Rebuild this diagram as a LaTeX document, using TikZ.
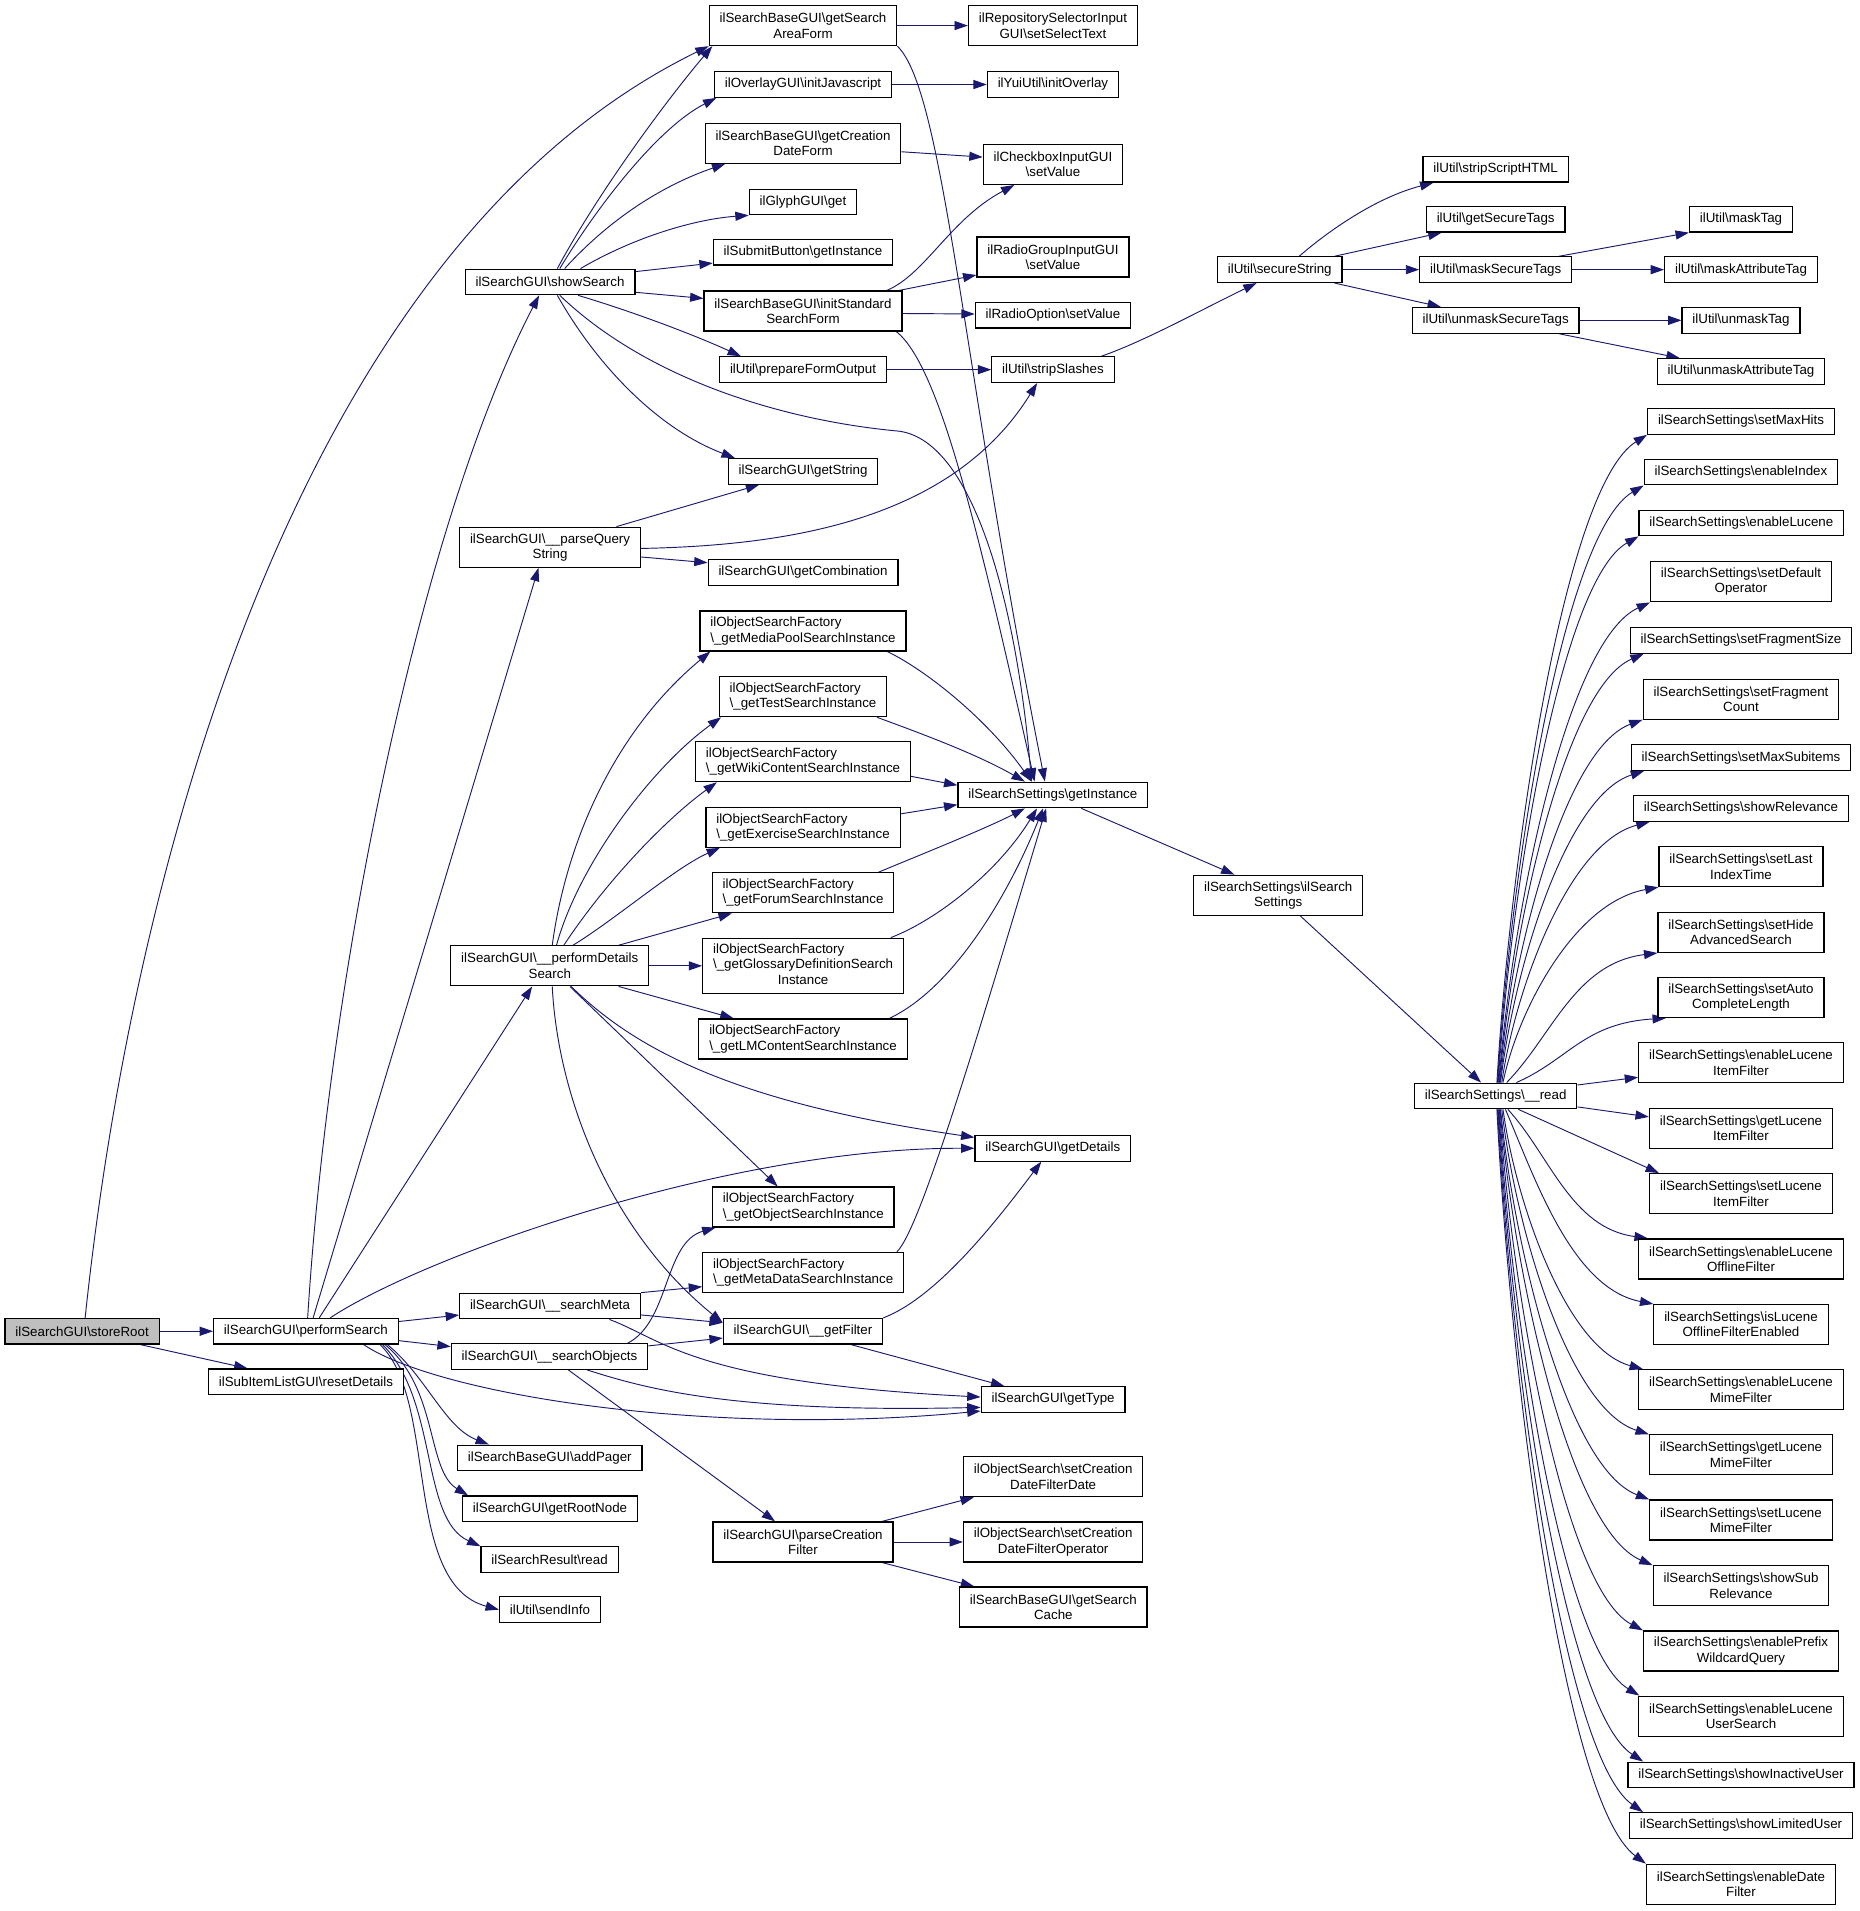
\documentclass[tikz,border=0pt]{standalone}
\usepackage{fontspec}
\setmainfont{Liberation Sans}
\usetikzlibrary{arrows.meta,calc}
\definecolor{edgeblue}{HTML}{191970}
\definecolor{rootgray}{HTML}{BFBFBF}
\newcommand{\BSL}{\textbackslash}
\pgfdeclarelayer{bglayer}
\pgfdeclarelayer{edgelayer}
\pgfsetlayers{bglayer,edgelayer,main}
\tikzset{
  box/.style={draw=black, line width=0.9pt, fill=white, font=\fontsize{10pt}{11.5pt}\selectfont,
    inner xsep=7.8pt, inner ysep=1pt, minimum height=19.2pt},
  boxc/.style={box, align=center, minimum height=30pt},
  boxl/.style={box, align=left, minimum height=30pt},
  boxthree/.style={box, minimum height=41.5pt},
  edge/.style={draw=edgeblue, line width=0.7pt, -{Triangle[length=10pt,width=6.8pt]}},
}
\newcommand{\fanedge}[3][0.09]{%
  \draw[edge] let \p1=#2, \p2=#3 in
    (\p1) .. controls ({\x1+#1*(\x2-\x1)},{\y1+0.355*(\y2-\y1)})
    and ({\x2-0.55*(\x2-\x1)},{\y2-0.08*(\y2-\y1)}) .. (\p2);}
\begin{document}
\begin{tikzpicture}[x=0.9135pt,y=-0.9135pt]
\begin{pgfonlayer}{bglayer}
\path[use as bounding box, fill=white] (0,0) rectangle (1527.1,1569);
\end{pgfonlayer}
% Column A/B
\node[box, fill=rootgray] (storeRoot) at (67.4,1093) {ilSearchGUI\BSL{}storeRoot};
\node[box] (performSearch) at (251.1,1093) {ilSearchGUI\BSL{}performSearch};
\node[box] (resetDetails) at (251.2,1134.5) {ilSubItemListGUI\BSL{}resetDetails};
% Column C
\node[box] (showSearch) at (451.6,231.5) {ilSearchGUI\BSL{}showSearch};
\node[boxc] (parseQuery) at (451.6,449.3) {ilSearchGUI\BSL\_\_parseQuery\\String};
\node[boxc] (performDetails) at (451.4,793) {ilSearchGUI\BSL\_\_performDetails\\Search};
\node[box] (searchMeta) at (451.6,1072.3) {ilSearchGUI\BSL\_\_searchMeta};
\node[box] (searchObjects) at (451.2,1113.8) {ilSearchGUI\BSL\_\_searchObjects};
\node[box] (addPager) at (451.4,1197) {ilSearchBaseGUI\BSL{}addPager};
\node[box] (getRootNode) at (451.6,1238.8) {ilSearchGUI\BSL{}getRootNode};
\node[box] (resultRead) at (451.2,1280.5) {ilSearchResult\BSL{}read};
\node[box] (sendInfo) at (451.5,1321.6) {ilUtil\BSL{}sendInfo};
% Column D
\node[boxc] (getSearchAreaForm) at (659.3,21) {ilSearchBaseGUI\BSL{}getSearch\\AreaForm};
\node[box] (initJavascript) at (659.3,69.4) {ilOverlayGUI\BSL{}initJavascript};
\node[boxc] (getCreationDateForm) at (659.3,117.6) {ilSearchBaseGUI\BSL{}getCreation\\DateForm};
\node[box] (glyphGet) at (659.3,165.8) {ilGlyphGUI\BSL{}get};
\node[box] (submitGetInstance) at (659.3,207) {ilSubmitButton\BSL{}getInstance};
\node[boxc] (initStandard) at (659.3,255.4) {ilSearchBaseGUI\BSL{}initStandard\\SearchForm};
\node[box] (prepareFormOutput) at (659.3,303.5) {ilUtil\BSL{}prepareFormOutput};
\node[box] (getString) at (659.3,387) {ilSearchGUI\BSL{}getString};
\node[box] (getCombination) at (659.3,470) {ilSearchGUI\BSL{}getCombination};
\node[boxl] (mediaPool) at (659.3,518) {ilObjectSearchFactory\\\BSL\_getMediaPoolSearchInstance};
\node[boxl] (testSearch) at (659.3,572) {ilObjectSearchFactory\\\BSL\_getTestSearchInstance};
\node[boxl] (wikiSearch) at (659.3,625.4) {ilObjectSearchFactory\\\BSL\_getWikiContentSearchInstance};
\node[boxl] (exerciseSearch) at (659.3,679.2) {ilObjectSearchFactory\\\BSL\_getExerciseSearchInstance};
\node[boxl] (forumSearch) at (659.3,733) {ilObjectSearchFactory\\\BSL\_getForumSearchInstance};
\node[boxthree] (glossarySearch) at (659.4,793) {\begin{tabular}{@{}l@{}}ilObjectSearchFactory\\\BSL\_getGlossaryDefinitionSearch\\\multicolumn{1}{@{}c@{}}{Instance}\end{tabular}};
\node[boxl] (lmSearch) at (659.3,853) {ilObjectSearchFactory\\\BSL\_getLMContentSearchInstance};
\node[boxl] (objectSearch) at (659.5,991) {ilObjectSearchFactory\\\BSL\_getObjectSearchInstance};
\node[boxl] (metaDataSearch) at (659.4,1044.7) {ilObjectSearchFactory\\\BSL\_getMetaDataSearchInstance};
\node[box] (getFilter) at (659.3,1093) {ilSearchGUI\BSL\_\_getFilter};
\node[boxc] (parseCreationFilter) at (659.3,1266) {ilSearchGUI\BSL{}parseCreation\\Filter};
% Column E
\node[boxc] (setSelectText) at (864.5,21) {ilRepositorySelectorInput\\GUI\BSL{}setSelectText};
\node[box] (initOverlay) at (864.5,69.4) {ilYuiUtil\BSL{}initOverlay};
\node[boxc] (checkboxSetValue) at (864.5,135) {ilCheckboxInputGUI\\\BSL{}setValue};
\node[boxc] (radioGroupSetValue) at (864.5,211) {ilRadioGroupInputGUI\\\BSL{}setValue};
\node[box] (radioOptionSetValue) at (864.5,258.8) {ilRadioOption\BSL{}setValue};
\node[box] (stripSlashes) at (864.5,303.5) {ilUtil\BSL{}stripSlashes};
\node[box] (ssGetInstance) at (864.4,652.7) {ilSearchSettings\BSL{}getInstance};
\node[box] (getDetails) at (864.4,942.8) {ilSearchGUI\BSL{}getDetails};
\node[box] (getType) at (864.6,1149) {ilSearchGUI\BSL{}getType};
\node[boxc] (setCDFDate) at (864.7,1212.4) {ilObjectSearch\BSL{}setCreation\\DateFilterDate};
\node[boxc] (setCDFOperator) at (864.7,1266) {ilObjectSearch\BSL{}setCreation\\DateFilterOperator};
\node[boxc] (getSearchCache) at (864.8,1319.4) {ilSearchBaseGUI\BSL{}getSearch\\Cache};
% Column F
\node[box] (secureString) at (1050.7,221.4) {ilUtil\BSL{}secureString};
\node[boxc] (ssCtor) at (1049.5,735) {ilSearchSettings\BSL{}ilSearch\\Settings};
% Column G
\node[box] (stripScriptHTML) at (1228,139) {ilUtil\BSL{}stripScriptHTML};
\node[box] (getSecureTags) at (1228,180) {ilUtil\BSL{}getSecureTags};
\node[box] (maskSecureTags) at (1228,221.4) {ilUtil\BSL{}maskSecureTags};
\node[box] (unmaskSecureTags) at (1228,263) {ilUtil\BSL{}unmaskSecureTags};
\node[box] (ssRead) at (1228,899.8) {ilSearchSettings\BSL\_\_read};
% Column H
\node[box] (maskTag) at (1429.4,180) {ilUtil\BSL{}maskTag};
\node[box] (maskAttributeTag) at (1429.4,221.4) {ilUtil\BSL{}maskAttributeTag};
\node[box] (unmaskTag) at (1429.4,263) {ilUtil\BSL{}unmaskTag};
\node[box] (unmaskAttributeTag) at (1429.4,305) {ilUtil\BSL{}unmaskAttributeTag};
\node[box] (setMaxHits) at (1429.4,346) {ilSearchSettings\BSL{}setMaxHits};
\node[box] (enableIndex) at (1429.4,387.6) {ilSearchSettings\BSL{}enableIndex};
\node[box] (enableLucene) at (1429.7,429.4) {ilSearchSettings\BSL{}enableLucene};
\node[boxc] (setDefault) at (1429.4,477.7) {ilSearchSettings\BSL{}setDefault\\Operator};
\node[box] (setFragmentSize) at (1429.4,525.8) {ilSearchSettings\BSL{}setFragmentSize};
\node[boxc] (setFragmentCount) at (1429.4,574) {ilSearchSettings\BSL{}setFragment\\Count};
\node[box] (setMaxSubitems) at (1429.4,622) {ilSearchSettings\BSL{}setMaxSubitems};
\node[box] (showRelevance) at (1429.4,663.8) {ilSearchSettings\BSL{}showRelevance};
\node[boxc] (setLastIndexTime) at (1429.4,711.5) {ilSearchSettings\BSL{}setLast\\IndexTime};
\node[boxc] (setHideAdvanced) at (1429.4,765.5) {ilSearchSettings\BSL{}setHide\\AdvancedSearch};
\node[boxc] (setAutoComplete) at (1429.4,819) {ilSearchSettings\BSL{}setAuto\\CompleteLength};
\node[boxc] (enableLuceneItemFilter) at (1429.4,872.5) {ilSearchSettings\BSL{}enableLucene\\ItemFilter};
\node[boxc] (getLuceneItemFilter) at (1429.4,926.5) {ilSearchSettings\BSL{}getLucene\\ItemFilter};
\node[boxc] (setLuceneItemFilter) at (1429.4,980) {ilSearchSettings\BSL{}setLucene\\ItemFilter};
\node[boxc] (enableLuceneOfflineFilter) at (1429.4,1033.6) {ilSearchSettings\BSL{}enableLucene\\OfflineFilter};
\node[boxc] (isLuceneOfflineFilterEnabled) at (1429.4,1087.5) {ilSearchSettings\BSL{}isLucene\\OfflineFilterEnabled};
\node[boxc] (enableLuceneMimeFilter) at (1429.4,1141) {ilSearchSettings\BSL{}enableLucene\\MimeFilter};
\node[boxc] (getLuceneMimeFilter) at (1429.4,1194.5) {ilSearchSettings\BSL{}getLucene\\MimeFilter};
\node[boxc] (setLuceneMimeFilter) at (1429.4,1248) {ilSearchSettings\BSL{}setLucene\\MimeFilter};
\node[boxc] (showSubRelevance) at (1429.4,1302) {ilSearchSettings\BSL{}showSub\\Relevance};
\node[boxc] (enablePrefix) at (1429.4,1355.5) {ilSearchSettings\BSL{}enablePrefix\\WildcardQuery};
\node[boxc] (enableLuceneUserSearch) at (1429.4,1409) {ilSearchSettings\BSL{}enableLucene\\UserSearch};
\node[box] (showInactiveUser) at (1429.4,1457.3) {ilSearchSettings\BSL{}showInactiveUser};
\node[box] (showLimitedUser) at (1429.4,1498.8) {ilSearchSettings\BSL{}showLimitedUser};
\node[boxc] (enableDateFilter) at (1429.4,1547) {ilSearchSettings\BSL{}enableDate\\Filter};

\begin{pgfonlayer}{edgelayer}
% storeRoot
\draw[edge] (storeRoot.east) -- (performSearch.west);
\draw[edge] ($(storeRoot.south)+(48,0)$) -- ($(resetDetails.north)+(-48,0)$);
\draw[edge] ($(storeRoot.north)+(2.5,0)$) .. controls (110,700) and (250,200) .. (getSearchAreaForm.south west);
% performSearch
\draw[edge] ($(performSearch.north)+(1.5,0)$) .. controls (270,800) and (345,430) .. ($(showSearch.south)+(-9,0)$);
\draw[edge] ($(performSearch.north)+(6,0)$) -- ($(parseQuery.south)+(-9.5,0)$);
\draw[edge] ($(performSearch.north)+(11,0)$) -- ($(performDetails.south)+(-14.5,0)$);
\draw[edge] ($(performSearch.east)+(0,-8)$) -- ($(searchMeta.west)+(0,7.4)$);
\draw[edge] ($(performSearch.east)+(0,7.7)$) -- ($(searchObjects.west)+(0,-8.2)$);
\draw[edge] ($(performSearch.north)+(20,0)$) .. controls (350,1030) and (600,942) .. (getDetails.west);
\draw[edge] ($(performSearch.south)+(47.5,0)$) .. controls (360,1145) and (580,1180) .. ($(getType.west)+(0,9.5)$);
\draw[edge] ($(performSearch.south)+(67,0)$) .. controls (350,1130) and (365,1172) .. ($(addPager.north)+(-50,0)$);
\draw[edge] ($(performSearch.south)+(65,0)$) .. controls (360,1140) and (350,1207) .. ($(getRootNode.north west)+(5,0)$);
\draw[edge] ($(performSearch.south)+(63,0)$) .. controls (360,1150) and (345,1247) .. (resultRead.north west);
\draw[edge] ($(performSearch.south)+(61,0)$) .. controls (360,1150) and (330,1300) .. (sendInfo.west);
% showSearch
\draw[edge] ($(showSearch.north)+(6,0)$) .. controls (490,160) and (545,85) .. ($(getSearchAreaForm.south west)+(3,0)$);
\draw[edge] ($(showSearch.north)+(8,0)$) .. controls (490,170) and (540,105) .. ($(initJavascript.south west)+(2,0)$);
\draw[edge] ($(showSearch.north)+(12,0)$) .. controls (505,175) and (550,150) .. ($(getCreationDateForm.south west)+(17,0)$);
\draw[edge] ($(showSearch.north)+(25,0)$) .. controls (520,195) and (570,180) .. (glyphGet.south west);
\draw[edge] ($(showSearch.east)+(0,-8.5)$) -- ($(submitGetInstance.west)+(0,9)$);
\draw[edge] ($(showSearch.east)+(0,8.5)$) -- ($(initStandard.west)+(0,-10.4)$);
\draw[edge] ($(showSearch.south)+(23,0)$) .. controls (520,256) and (570,275) .. ($(prepareFormOutput.north west)+(18,0)$);
\draw[edge] ($(showSearch.south)+(6,0)$) .. controls (490,300) and (540,352) .. ($(getString.north)+(-56,0)$);
\draw[edge] ($(showSearch.south)+(8,0)$) .. controls (530,310) and (640,345) .. (738,354) .. controls (800,362) and (835,500) .. ($(ssGetInstance.north)+(-17.5,0)$);
% forms
\draw[edge] (getSearchAreaForm.east) -- (getSearchAreaForm.east -| setSelectText.west);
\draw[edge] (getSearchAreaForm.south east) .. controls (775,75) and (790,300) .. ($(ssGetInstance.north)+(-6.5,0)$);
\draw[edge] (initJavascript.east) -- (initOverlay.west);
\draw[edge] ($(getCreationDateForm.east)+(0,7)$) -- ($(checkboxSetValue.west)+(0,-6)$);
\draw[edge] ($(initStandard.north east)+(-13,0)$) .. controls (760,225) and (780,180) .. ($(checkboxSetValue.south west)+(26,0)$);
\draw[edge] ($(initStandard.north east)+(-3,0)$) -- ($(radioGroupSetValue.west)+(0,14.8)$);
\draw[edge] ($(initStandard.east)+(0,2)$) -- ($(radioOptionSetValue.west)+(0,-1)$);
\draw[edge] ($(initStandard.south east)+(-5,0)$) .. controls (770,300) and (800,420) .. ($(ssGetInstance.north)+(-15,0)$);
\draw[edge] (prepareFormOutput.east) -- (stripSlashes.west);
% parseQuery
\draw[edge] ($(parseQuery.north)+(54.5,0)$) -- ($(getString.south)+(-36,0)$);
\draw[edge] ($(parseQuery.east)+(0,1)$) .. controls (640,448) and (780,430) .. ($(stripSlashes.south)+(-13,0)$);
\draw[edge] ($(parseQuery.east)+(0,8)$) -- ($(getCombination.west)+(0,-8)$);
% performDetails
\draw[edge] ($(performDetails.north)+(2,0)$) .. controls (465,690) and (505,600) .. ($(mediaPool.south west)+(9,0)$);
\draw[edge] ($(performDetails.north)+(5.5,0)$) .. controls (475,710) and (535,630) .. ($(testSearch.south west)+(2,0)$);
\draw[edge] ($(performDetails.north)+(11.5,0)$) .. controls (500,720) and (550,670) .. ($(wikiSearch.south west)+(18,0)$);
\draw[edge] ($(performDetails.north)+(19,0)$) .. controls (505,755) and (555,712) .. ($(exerciseSearch.south west)+(12,0)$);
\draw[edge] ($(performDetails.north)+(56.5,0)$) -- ($(forumSearch.south west)+(16.6,0)$);
\draw[edge] (performDetails.east) -- (glossarySearch.west);
\draw[edge] ($(performDetails.south)+(56.5,0)$) -- ($(lmSearch.north west)+(29,0)$);
\draw[edge] ($(performDetails.south)+(17.5,0)$) .. controls (520,860) and (600,905) .. ($(getDetails.west)+(0,-9)$);
\draw[edge] ($(performDetails.south)+(16.5,0)$) -- ($(objectSearch.north)+(-21,0)$);
\draw[edge] ($(performDetails.south)+(2,0)$) .. controls (458,900) and (500,1010) .. ($(getFilter.west)+(0,-7)$);
% factories -> getInstance
\draw[edge] ($(mediaPool.south east)+(-16,0)$) .. controls (760,550) and (810,590) .. ($(ssGetInstance.north)+(-17.5,0)$);
\draw[edge] ($(testSearch.south east)+(-8.5,0)$) .. controls (750,600) and (800,618) .. ($(ssGetInstance.north)+(-23,0)$);
\draw[edge] ($(wikiSearch.east)+(0,12)$) -- ($(ssGetInstance.west)+(0,-8)$);
\draw[edge] ($(exerciseSearch.east)+(0,-11)$) -- ($(ssGetInstance.west)+(0,8)$);
\draw[edge] ($(forumSearch.north east)+(-13,0)$) .. controls (760,700) and (810,680) .. ($(ssGetInstance.south)+(-23,0)$);
\draw[edge] ($(glossarySearch.north east)+(-11,0)$) .. controls (770,755) and (820,715) .. ($(ssGetInstance.south)+(-13,0)$);
\draw[edge] ($(lmSearch.north east)+(-15,0)$) .. controls (785,810) and (830,730) .. ($(ssGetInstance.south)+(-8,0)$);
\draw[edge] ($(metaDataSearch.north east)+(-6,0)$) .. controls (755,1010) and (800,860) .. ($(ssGetInstance.south)+(-5.5,0)$);
% searchMeta / searchObjects
\draw[edge] (searchMeta.north east) -- ($(metaDataSearch.west)+(0,11.7)$);
\draw[edge] ($(searchMeta.east)+(0,7.3)$) -- ($(getFilter.west)+(0,-7)$);
\draw[edge] ($(searchMeta.south east)+(-26,0)$) .. controls (545,1100) and (570,1135) .. ($(getType.west)+(0,-2)$);
\draw[edge] ($(searchObjects.north east)+(-17,0)$) .. controls (550,1085) and (545,1020) .. ($(objectSearch.south west)+(3,0)$);
\draw[edge] ($(searchObjects.east)+(0,-8.8)$) -- ($(getFilter.west)+(0,5.6)$);
\draw[edge] ($(searchObjects.south)+(31,0)$) .. controls (530,1140) and (600,1160) .. ($(getType.west)+(0,6.5)$);
\draw[edge] ($(searchObjects.south)+(15.5,0)$) -- ($(parseCreationFilter.north)+(-23,0)$);
\draw[edge] (getFilter.north east) .. controls (770,1065) and (820,1000) .. ($(getDetails.south)+(-9.5,0)$);
\draw[edge] ($(getFilter.south)+(39.5,0)$) -- ($(getType.north west)+(19.5,0)$);
\draw[edge] ($(parseCreationFilter.north east)+(-9.5,0)$) -- ($(setCDFDate.south west)+(9,0)$);
\draw[edge] (parseCreationFilter.east) -- (setCDFOperator.west);
\draw[edge] ($(parseCreationFilter.south east)+(-9.5,0)$) -- ($(getSearchCache.north west)+(12.5,0)$);
% util
\draw[edge] ($(stripSlashes.north east)+(-11,0)$) .. controls (940,280) and (985,255) .. ($(secureString.south)+(-19,0)$);
\draw[edge] ($(secureString.north)+(16,0)$) .. controls (1090,190) and (1130,162) .. ($(stripScriptHTML.south west)+(9,0)$);
\draw[edge] ($(secureString.north)+(45,0)$) -- ($(getSecureTags.south west)+(13,0)$);
\draw[edge] (secureString.east) -- (maskSecureTags.west);
\draw[edge] ($(secureString.south)+(45,0)$) -- ($(unmaskSecureTags.north west)+(24,0)$);
\draw[edge] ($(maskSecureTags.north)+(52,0)$) -- (maskTag.south west);
\draw[edge] (maskSecureTags.east) -- (maskAttributeTag.west);
\draw[edge] (unmaskSecureTags.east) -- (unmaskTag.west);
\draw[edge] ($(unmaskSecureTags.south)+(52,0)$) -- ($(unmaskAttributeTag.north west)+(19,0)$);
% settings
\draw[edge] ($(ssGetInstance.south east)+(-55,0)$) -- ($(ssCtor.north)+(-36,0)$);
\draw[edge] ($(ssCtor.south)+(18,0)$) -- ($(ssRead.north)+(-12,0)$);
\fanedge{($(ssRead.north)+(1,0)$)}{(setMaxHits.south west)}
\fanedge{($(ssRead.north)+(1.5,0)$)}{(enableIndex.south west)}
\fanedge{($(ssRead.north)+(2,0)$)}{(enableLucene.south west)}
\fanedge{($(ssRead.north)+(2.5,0)$)}{(setDefault.south west)}
\fanedge{($(ssRead.north)+(3,0)$)}{($(setFragmentSize.south west)+(11.6,0)$)}
\fanedge{($(ssRead.north)+(3.5,0)$)}{(setFragmentCount.south west)}
\fanedge{($(ssRead.north)+(4,0)$)}{($(setMaxSubitems.south west)+(11,0)$)}
\fanedge{($(ssRead.north)+(5,0)$)}{($(showRelevance.south west)+(13.7,0)$)}
\fanedge{($(ssRead.north)+(6,0)$)}{(setLastIndexTime.south west)}
\fanedge[0.3]{($(ssRead.north)+(9,0)$)}{(setHideAdvanced.south west)}
\fanedge[0.35]{($(ssRead.north)+(17,0)$)}{($(setAutoComplete.south west)+(7,0)$)}
\draw[edge] ($(ssRead.east)+(0,-9)$) -- ($(enableLuceneItemFilter.west)+(0,12)$);
\draw[edge] ($(ssRead.east)+(0,9)$) -- ($(getLuceneItemFilter.west)+(0,-9.5)$);
\draw[edge] ($(ssRead.south)+(18.6,0)$) -- ($(setLuceneItemFilter.north west)+(8,0)$);
\fanedge[0.3]{($(ssRead.south)+(10,0)$)}{($(enableLuceneOfflineFilter.north west)+(8,0)$)}
\fanedge[0.2]{($(ssRead.south)+(8,0)$)}{(isLuceneOfflineFilterEnabled.north west)}
\fanedge{($(ssRead.south)+(6,0)$)}{($(enableLuceneMimeFilter.north west)+(4,0)$)}
\fanedge{($(ssRead.south)+(5,0)$)}{(getLuceneMimeFilter.north west)}
\fanedge{($(ssRead.south)+(4,0)$)}{(setLuceneMimeFilter.north west)}
\fanedge{($(ssRead.south)+(3.5,0)$)}{(showSubRelevance.north west)}
\fanedge{($(ssRead.south)+(3,0)$)}{(enablePrefix.north west)}
\fanedge{($(ssRead.south)+(2.5,0)$)}{($(enableLuceneUserSearch.north west)+(1,0)$)}
\fanedge{($(ssRead.south)+(2,0)$)}{($(showInactiveUser.north west)+(13,0)$)}
\fanedge{($(ssRead.south)+(1.5,0)$)}{($(showLimitedUser.north west)+(11.6,0)$)}
\fanedge{($(ssRead.south)+(1,0)$)}{(enableDateFilter.north west)}
\end{pgfonlayer}
\end{tikzpicture}
\end{document}
